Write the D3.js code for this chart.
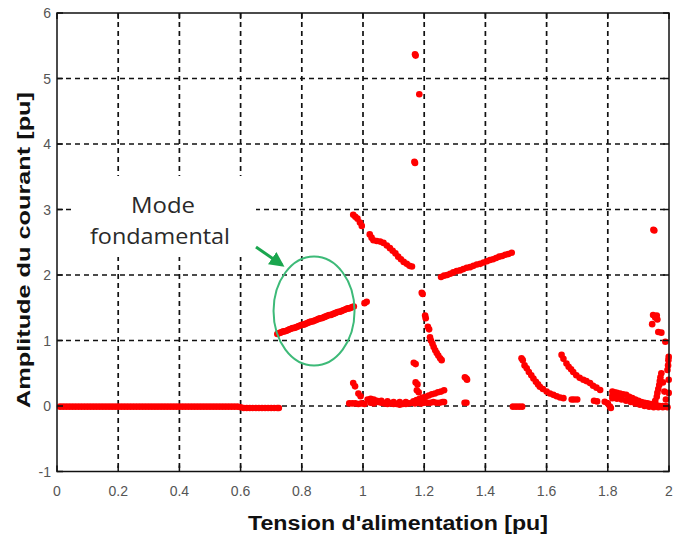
<!DOCTYPE html>
<html><head><meta charset="utf-8">
<script src="https://cdn.jsdelivr.net/npm/d3@7"></script>
<style>body{margin:0;background:#fff}svg{display:block}</style>
</head><body>
<svg id="c" width="673" height="536"></svg>
<script>
const xTicks = [0,0.2,0.4,0.6,0.8,1,1.2,1.4,1.6,1.8,2];
const yTicks = [-1,0,1,2,3,4,5,6];
const xLabel = "Tension d'alimentation [pu]";
const yLabel = "Amplitude du courant [pu]";
const noteLines = ["Mode","fondamental"];

const baseline = [[0.01,-0.01],[0.02,-0.01],[0.03,-0.01],[0.04,-0.01],[0.05,-0.01],[0.06,-0.01],[0.07,-0.01],[0.08,-0.01],[0.09,-0.01],[0.10,-0.01],[0.11,-0.01],[0.12,-0.01],[0.13,-0.01],[0.14,-0.01],[0.15,-0.01],[0.16,-0.01],[0.17,-0.01],[0.18,-0.01],[0.19,-0.01],[0.20,-0.01],[0.21,-0.01],[0.22,-0.01],[0.23,-0.01],[0.24,-0.01],[0.25,-0.01],[0.26,-0.01],[0.27,-0.01],[0.28,-0.01],[0.29,-0.01],[0.30,-0.01],[0.31,-0.01],[0.32,-0.01],[0.33,-0.01],[0.34,-0.01],[0.35,-0.01],[0.36,-0.01],[0.37,-0.01],[0.38,-0.01],[0.39,-0.01],[0.40,-0.01],[0.41,-0.01],[0.42,-0.01],[0.43,-0.01],[0.44,-0.01],[0.45,-0.01],[0.46,-0.01],[0.47,-0.01],[0.48,-0.01],[0.49,-0.01],[0.50,-0.01],[0.51,-0.01],[0.52,-0.01],[0.53,-0.01],[0.54,-0.01],[0.55,-0.01],[0.56,-0.01],[0.57,-0.01],[0.58,-0.01],[0.59,-0.01],[0.60,-0.02],[0.61,-0.03],[0.62,-0.03],[0.63,-0.03],[0.64,-0.03],[0.65,-0.03],[0.66,-0.03],[0.67,-0.03],[0.68,-0.03],[0.69,-0.03],[0.70,-0.03],[0.71,-0.03],[0.72,-0.03],[0.725,-0.03]];
const fundamental = [[0.72,1.10],[0.725,1.11],[0.73,1.12],[0.735,1.13],[0.74,1.14],[0.745,1.14],[0.75,1.15],[0.755,1.16],[0.76,1.17],[0.765,1.18],[0.77,1.19],[0.775,1.19],[0.78,1.20],[0.785,1.21],[0.79,1.22],[0.795,1.23],[0.80,1.24],[0.805,1.24],[0.81,1.25],[0.815,1.26],[0.82,1.27],[0.825,1.28],[0.83,1.29],[0.835,1.29],[0.84,1.30],[0.845,1.31],[0.85,1.32],[0.855,1.33],[0.86,1.34],[0.865,1.34],[0.87,1.35],[0.875,1.36],[0.88,1.37],[0.885,1.38],[0.89,1.39],[0.895,1.39],[0.90,1.40],[0.905,1.41],[0.91,1.42],[0.915,1.43],[0.92,1.44],[0.925,1.44],[0.93,1.45],[0.935,1.46],[0.94,1.47],[0.945,1.48],[0.95,1.49],[0.955,1.49],[0.96,1.50],[0.965,1.51],[0.97,1.52],[1.005,1.57],[1.012,1.59]];
const branchA = [[0.968,2.92],[0.975,2.89],[0.982,2.86],[0.99,2.80],[0.996,2.75]];
const branchB = [[1.022,2.62],[1.028,2.57],[1.034,2.53],[1.045,2.52],[1.056,2.51],[1.067,2.49],[1.078,2.45],[1.088,2.41],[1.097,2.37],[1.106,2.33],[1.115,2.28],[1.124,2.24],[1.133,2.20],[1.143,2.17],[1.152,2.14],[1.16,2.13]];
const branchC = [[1.255,1.97],[1.265,1.99],[1.275,2.00],[1.285,2.02],[1.295,2.04],[1.306,2.06],[1.317,2.07],[1.328,2.09],[1.339,2.11],[1.35,2.12],[1.361,2.14],[1.372,2.16],[1.383,2.17],[1.394,2.19],[1.405,2.21],[1.415,2.23],[1.425,2.24],[1.435,2.26],[1.445,2.28],[1.455,2.29],[1.465,2.31],[1.475,2.32],[1.486,2.34]];
const spikes = [[1.170,5.37],[1.172,5.35],[1.184,4.76],[1.170,3.71],[1.168,3.73]];
const branchD = [[1.192,1.73],[1.195,1.71],[1.203,1.38],[1.205,1.34],[1.212,1.21],[1.216,1.17],[1.219,1.05],[1.222,1.00],[1.227,0.95],[1.231,0.90],[1.236,0.85],[1.241,0.81],[1.246,0.77],[1.252,0.73],[1.257,0.70]];
const lowPoints = [[0.968,0.35],[0.974,0.30],[0.985,0.19],[0.992,0.15],[1.166,0.66],[1.172,0.64],[1.172,0.36],[1.178,0.33],[1.176,0.24],[1.182,0.21],[1.333,0.44],[1.338,0.42],[1.34,0.40],[1.332,0.05],[1.338,0.05],[1.49,-0.01],[1.50,-0.01],[1.51,-0.01],[1.52,-0.01]];
const lowBand = [[0.955,0.04],[0.965,0.04],[0.975,0.04],[0.985,0.03],[0.995,0.04],[1.005,0.03],[1.015,0.10],[1.025,0.11],[1.035,0.10],[1.045,0.08],[1.025,0.05],[1.035,0.04],[1.05,0.06],[1.06,0.05],[1.07,0.04],[1.08,0.03],[1.09,0.04],[1.10,0.03],[1.11,0.03],[1.12,0.02],[1.13,0.03],[1.14,0.03],[1.15,0.04],[1.16,0.05],[1.17,0.04],[1.18,0.05],[1.19,0.04],[1.20,0.05],[1.21,0.05],[1.22,0.05],[1.23,0.06],[1.24,0.05],[1.25,0.05],[1.26,0.06],[1.265,0.06],[1.06,0.08],[1.08,0.07],[1.10,0.06],[1.12,0.06],[1.14,0.06],[1.165,0.07],[1.175,0.09],[1.185,0.11],[1.195,0.13],[1.205,0.14],[1.215,0.16],[1.225,0.18],[1.235,0.19],[1.245,0.21],[1.255,0.22],[1.265,0.24]];
const branchE = [[1.518,0.73],[1.522,0.70],[1.528,0.62],[1.535,0.575],[1.542,0.52],[1.55,0.47],[1.557,0.42],[1.565,0.37],[1.572,0.33],[1.578,0.295],[1.588,0.26],[1.60,0.22],[1.611,0.19],[1.622,0.17],[1.633,0.15],[1.644,0.13],[1.655,0.12],[1.682,0.10],[1.69,0.10],[1.70,0.10]];
const branchF = [[1.649,0.78],[1.655,0.72],[1.665,0.65],[1.672,0.60],[1.68,0.56],[1.687,0.52],[1.697,0.47],[1.708,0.43],[1.72,0.40],[1.73,0.38],[1.742,0.35],[1.752,0.31],[1.763,0.28],[1.775,0.245],[1.755,0.08],[1.765,0.07],[1.79,0.065],[1.80,0.04],[1.807,-0.01],[1.81,-0.03]];
const clusterRight = [[1.815,0.22],[1.822,0.21],[1.83,0.20],[1.84,0.19],[1.85,0.18],[1.86,0.17],[1.87,0.14],[1.88,0.12],[1.89,0.10],[1.90,0.08],[1.91,0.06],[1.92,0.05],[1.93,0.04],[1.94,0.03],[1.95,0.02],[1.96,0.01],[1.97,0.0],[1.98,0.0],[1.99,0.0],[1.815,0.12],[1.815,0.16],[1.83,0.11],[1.83,0.15],[1.845,0.10],[1.845,0.14],[1.86,0.08],[1.875,0.06],[1.875,0.10],[1.89,0.04],[1.905,0.02],[1.92,0.0],[1.935,-0.01],[1.95,-0.02],[1.965,-0.02],[1.98,-0.02],[1.995,-0.02]];
const rightEdge = [[1.955,0.08],[1.96,0.14],[1.962,0.20],[1.965,0.26],[1.968,0.32],[1.97,0.38],[1.972,0.44],[1.975,0.50],[1.98,0.36],[1.985,0.22],[1.99,0.10],[1.995,0.55],[1.997,0.62],[1.998,0.70],[1.999,0.75],[1.999,0.40],[1.999,0.20],[1.988,0.98],[1.975,1.12],[1.965,1.13],[1.955,1.35],[1.948,1.39],[1.96,1.38],[1.962,1.32],[1.945,1.25],[1.949,2.69],[1.952,2.68]];

const series = [baseline,fundamental,branchA,branchB,branchC,spikes,branchD,lowPoints,lowBand,branchE,branchF,clusterRight,rightEdge];

const svg = d3.select("#c");
const x = d3.scaleLinear().domain([0,2]).range([57,669]);
const y = d3.scaleLinear().domain([-1,6]).range([471.5,13]);

// grid
const grid = svg.append("g").attr("stroke","#111").attr("stroke-width",1.7).attr("stroke-dasharray","5,4");
grid.selectAll(".gx").data(xTicks.slice(1,-1)).join("line")
  .attr("x1",d=>x(d)).attr("x2",d=>x(d)).attr("y1",y(6)).attr("y2",y(-1));
grid.selectAll(".gy").data(yTicks.slice(1,-1)).join("line")
  .attr("y1",d=>y(d)).attr("y2",d=>y(d)).attr("x1",x(0)).attr("x2",x(2));

// white annotation box
svg.append("rect").attr("x",72).attr("y",176).attr("width",184).attr("height",81).attr("fill","#fff");
svg.selectAll(".note").data(noteLines).join("text")
  .attr("x",(d,i)=>i?160:163).attr("y",(d,i)=>i?244:213)
  .attr("text-anchor","middle").attr("font-family","'Open Sans','Noto Sans',sans-serif")
  .attr("font-size",21).attr("fill","#2a2a2a")
  .attr("textLength",(d,i)=>i?140:64).attr("lengthAdjust","spacingAndGlyphs")
  .text(d=>d);

// data points
const pts = series.flat();
svg.append("g").attr("fill","#ff0000").selectAll("circle").data(pts).join("circle")
  .attr("cx",d=>x(d[0])).attr("cy",d=>y(d[1])).attr("r",3.3);

// green ellipse and arrow
svg.append("ellipse").attr("cx",x(0.84)).attr("cy",y(1.45)).attr("rx",40.5).attr("ry",54.5)
  .attr("fill","none").attr("stroke","#3dba78").attr("stroke-width",2);
const defs = svg.append("defs");
defs.append("marker").attr("id","ah").attr("viewBox","0 0 10 10").attr("refX",8).attr("refY",5)
  .attr("markerWidth",5).attr("markerHeight",5).attr("orient","auto")
  .append("path").attr("d","M0,0L10,5L0,10z").attr("fill","#1aa64e");
svg.append("line").attr("x1",256).attr("y1",247).attr("x2",282).attr("y2",265)
  .attr("stroke","#1aa64e").attr("stroke-width",3).attr("marker-end","url(#ah)");

// axes box and ticks
const ax = svg.append("g").attr("stroke","#111").attr("stroke-width",1.5);
ax.append("rect").attr("x",x(0)).attr("y",y(6)).attr("width",x(2)-x(0)).attr("height",y(-1)-y(6)).attr("fill","none");
ax.selectAll(".tb").data(xTicks).join("line").attr("x1",d=>x(d)).attr("x2",d=>x(d)).attr("y1",y(-1)).attr("y2",y(-1)-6);
ax.selectAll(".tt").data(xTicks).join("line").attr("class","tt").attr("x1",d=>x(d)).attr("x2",d=>x(d)).attr("y1",y(6)).attr("y2",y(6)+6);
ax.selectAll(".tl").data(yTicks).join("line").attr("class","tl").attr("y1",d=>y(d)).attr("y2",d=>y(d)).attr("x1",x(0)).attr("x2",x(0)+6);
ax.selectAll(".tr").data(yTicks).join("line").attr("class","tr").attr("y1",d=>y(d)).attr("y2",d=>y(d)).attr("x1",x(2)).attr("x2",x(2)-6);

// tick labels
const tf = "'Liberation Sans',Arial,sans-serif";
svg.append("g").selectAll("text").data(xTicks).join("text")
  .attr("x",d=>x(d)).attr("y",496).attr("text-anchor","middle")
  .attr("font-family",tf).attr("font-size",14).attr("fill","#555").text(d=>d);
svg.append("g").selectAll("text").data(yTicks).join("text")
  .attr("x",51).attr("y",d=>y(d)+5).attr("text-anchor","end")
  .attr("font-family",tf).attr("font-size",14).attr("fill","#555").text(d=>d);

// axis labels
svg.append("text").attr("x",398).attr("y",530).attr("text-anchor","middle")
  .attr("font-family","'Liberation Sans Narrow','Liberation Sans',Arial,sans-serif").attr("font-weight","bold")
  .attr("font-size",20).attr("fill","#111").attr("textLength",300).attr("lengthAdjust","spacingAndGlyphs").text(xLabel);
svg.append("text").attr("transform","translate(30,250) rotate(-90)").attr("text-anchor","middle")
  .attr("font-family","'Liberation Sans',Arial,sans-serif").attr("font-weight","bold")
  .attr("font-size",19).attr("fill","#111").attr("textLength",316).attr("lengthAdjust","spacingAndGlyphs").text(yLabel);
</script>
</body></html>
